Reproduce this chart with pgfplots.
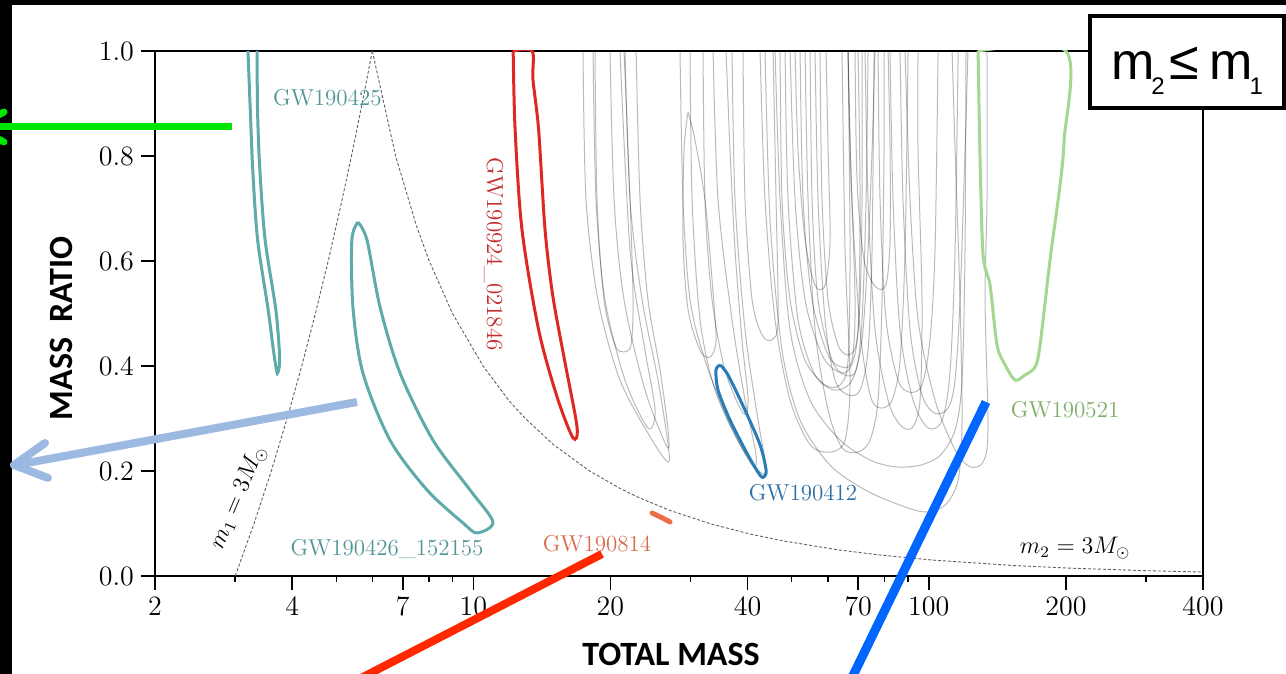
\documentclass[border=0pt]{standalone}
\usepackage{pgfplots}
\pgfplotsset{compat=1.18}
\usepackage{fontspec}
\newfontfamily\calibri{Carlito}
\newfontfamily\arial{Liberation Sans}
\definecolor{teal1}{RGB}{95,170,170}
\definecolor{tealtxt}{RGB}{80,150,150}
\definecolor{red1}{RGB}{222,40,35}
\definecolor{redtxt}{RGB}{195,45,45}
\definecolor{blue1}{RGB}{40,125,185}
\definecolor{bluetxt}{RGB}{45,110,165}
\definecolor{orange1}{RGB}{235,110,70}
\definecolor{orangetxt}{RGB}{215,110,75}
\definecolor{green1}{RGB}{165,215,145}
\definecolor{greentxt}{RGB}{125,175,105}
\definecolor{annGreen}{RGB}{0,230,0}
\definecolor{annSteel}{RGB}{155,185,225}
\definecolor{annRed}{RGB}{255,40,0}
\definecolor{annBlue}{RGB}{0,102,255}
\tikzset{
  graycont/.style={black, draw opacity=0.27, line width=0.5pt, smooth},
  ev/.style={line width=1.5pt, smooth},
  lab/.style={font=\fontsize{11.5}{13}\selectfont},
}
\begin{document}
\begin{tikzpicture}
\useasboundingbox (0,0) rectangle (643pt,337pt);
\clip (0,0) rectangle (643pt,337pt);
\fill[black] (0,0) rectangle (643pt,337pt);
\fill[white] (6pt,0) rectangle (643pt,334.5pt);
\begin{axis}[
  scale only axis, width=524pt, height=262.5pt,
  at={(77.5pt,49pt)}, anchor=south west,
  xmode=log, xmin=2, xmax=400, ymin=0, ymax=1,
  xtick={2,4,7,10,20,40,70,100,200,400},
  xticklabels={2,4,7,10,20,40,70,100,200,400},
  minor xtick={3,5,6,8,9,30,50,60,80,90,300},
  ytick={0,0.2,0.4,0.6,0.8,1},
  yticklabels={0.0,0.2,0.4,0.6,0.8,1.0},
  xtick pos=bottom, ytick pos=left,
  tick align=outside,
  major tick length=7pt, minor tick length=3pt,
  every tick/.style={black, line width=0.75pt},
  axis line style={line width=0.75pt},
  tick label style={font=\fontsize{14}{16}\selectfont},
  xlabel={TOTAL MASS}, ylabel={MASS\ \ RATIO},
  label style={font=\calibri\bfseries\fontsize{17}{19}\selectfont},
  xlabel style={at={(axis description cs:0.4924,-0.150)}, anchor=center},
  ylabel style={at={(axis description cs:-0.0897,0.472)}, anchor=center},
]
% m1 = 3 Msun and m2 = 3 Msun boundaries
\addplot[gray!75!black, line width=0.45pt, dash pattern=on 1.5pt off 1pt] coordinates {(3,0)(3.3,0.1)(3.6,0.2)(3.9,0.3)(4.2,0.4)(4.5,0.5)(4.8,0.6)(5.1,0.7)(5.4,0.8)(5.7,0.9)(6,1)};
\addplot[gray!75!black, line width=0.45pt, dash pattern=on 1.5pt off 1pt] coordinates {(6,1)(6.75,0.8)(7.5,0.667)(8,0.6)(9,0.5)(10.5,0.4)(12,0.333)(13,0.3)(15,0.25)(18,0.2)(21,0.1667)(23,0.15)(27,0.125)(33,0.1)(40.5,0.08)(48,0.0667)(63,0.05)(78,0.04)(103,0.03)(153,0.02)(203,0.015)(303,0.01)(400,0.00756)};
% gray contours of other events
\addplot[graycont] coordinates {(17.41,1)(17.68,0.716)(18.78,0.526)(20.99,0.373)(24.68,0.259)(26.76,0.217)(26.76,0.250)(25.44,0.373)(23.47,0.526)(22.08,0.716)(21.53,1)};
\addplot[graycont] coordinates {(18.32,1)(18.59,0.716)(19.46,0.526)(21.53,0.373)(24.18,0.282)(25.06,0.316)(23.82,0.430)(22.08,0.621)(20.99,1)};
\addplot[graycont] coordinates {(18.50,1)(18.69,0.716)(19.36,0.526)(20.47,0.44)(21.31,0.427)(22.19,0.44)(22.42,0.526)(22.08,0.716)(21.42,1)};
\addplot[graycont] coordinates {(19.96,1)(20.37,0.716)(21.42,0.526)(23.82,0.354)(26.63,0.246)(26.76,0.278)(25.70,0.392)(24.18,0.526)(23.23,0.716)(22.77,1)};
\addplot[graycont] coordinates {(28.43,1)(28.86,0.716)(29.91,0.526)(32.26,0.411)(36.24,0.297)(40.93,0.211)(41.76,0.230)(39.50,0.335)(36.99,0.488)(34.46,0.716)(33.60,1)};
\addplot[graycont] coordinates {(29.61,0.884)(29.01,0.811)(28.86,0.640)(29.61,0.507)(31.46,0.430)(33.09,0.417)(34.11,0.450)(33.43,0.564)(32.26,0.716)(30.67,0.830)(29.61,0.884)};
\addplot[graycont] coordinates {(31.94,1)(32.26,0.716)(33.43,0.526)(35.70,0.392)(39.10,0.310)(40.10,0.335)(38.90,0.450)(37.55,0.621)(36.61,0.811)(35.88,1)};
\addplot[graycont] coordinates {(39.10,1)(39.50,0.716)(40.93,0.526)(43.05,0.459)(45.28,0.450)(46.68,0.488)(46.20,0.716)(45.51,1)};
\addplot[graycont] coordinates {(42.61,1)(43.70,0.716)(45.97,0.488)(49.59,0.335)(54.87,0.250)(60.71,0.236)(65.49,0.259)(67.16,0.373)(65.49,0.621)(64.50,1)};
\addplot[graycont] coordinates {(50.86,1)(51.63,0.811)(53.50,0.640)(56.27,0.554)(59.19,0.554)(60.71,0.640)(60.10,0.811)(59.49,1)};
\addplot[graycont] coordinates {(49.59,1)(50.86,0.716)(53.50,0.526)(58.29,0.421)(63.21,0.389)(67.16,0.396)(69.94,0.469)(70.65,0.716)(69.94,1)};
\addplot[graycont] coordinates {(52.16,1)(52.96,0.716)(55.43,0.526)(60.10,0.421)(64.50,0.398)(67.85,0.411)(68.88,0.526)(67.16,0.811)(66.49,1)};
\addplot[graycont] coordinates {(54.87,1)(55.43,0.716)(57.13,0.526)(61.33,0.411)(65.49,0.383)(69.22,0.392)(71.37,0.488)(72.82,0.716)(73.56,1)};
\addplot[graycont] coordinates {(48.35,1)(49.09,0.716)(51.63,0.488)(56.27,0.383)(62.26,0.354)(67.85,0.373)(71.37,0.450)(73.56,0.621)(75.07,0.811)(76.21,1)};
\addplot[graycont] coordinates {(68.88,1)(69.58,0.754)(72.09,0.602)(76.60,0.550)(80.57,0.556)(82.21,0.640)(82.21,0.811)(81.39,1)};
\addplot[graycont] coordinates {(77.38,1)(78.16,0.716)(80.57,0.488)(85.61,0.373)(90.96,0.350)(96.63,0.364)(100.6,0.450)(103.2,0.621)(104.8,1)};
\addplot[graycont] coordinates {(82.21,1)(83.47,0.716)(86.47,0.469)(92.35,0.335)(99.6,0.282)(107.0,0.297)(111.4,0.392)(114.2,0.621)(116.0,1)};
\addplot[graycont] coordinates {(88.69,1)(90.96,0.716)(94.71,0.488)(103.2,0.335)(114.2,0.240)(123.2,0.208)(131.6,0.217)(134.9,0.278)(132.9,0.526)(134.2,0.716)(134.2,1)};
\addplot[graycont] coordinates {(43.70,1)(44.82,0.678)(47.62,0.430)(52.16,0.297)(60.71,0.211)(72.45,0.164)(86.47,0.135)(98.12,0.122)(108.6,0.135)(116.0,0.183)(118.3,0.297)(117.1,0.526)(114.2,0.811)(112.5,1)};
\addplot[graycont] coordinates {(45.97,1)(47.15,0.716)(49.59,0.469)(54.87,0.335)(63.85,0.259)(74.31,0.221)(84.32,0.208)(95.67,0.211)(105.9,0.230)(114.2,0.278)(118.3,0.373)(120.1,0.621)(120.7,1)};
\addplot[graycont] coordinates {(72.45,1)(73.56,0.716)(76.21,0.469)(81.39,0.335)(86.47,0.288)(91.89,0.282)(95.67,0.335)(96.63,0.526)(94.71,0.811)(94.71,1)};
\addplot[graycont] coordinates {(56.27,1)(57.13,0.716)(59.19,0.488)(62.26,0.373)(66.49,0.345)(70.65,0.354)(73.56,0.430)(75.07,0.621)(75.83,1)};
\addplot[graycont] coordinates {(66.49,1)(67.85,0.716)(70.65,0.469)(74.31,0.345)(78.16,0.320)(83.05,0.335)(86.47,0.411)(88.69,0.621)(90.04,1)};
\addplot[graycont] coordinates {(53.50,1)(54.31,0.716)(56.27,0.469)(60.10,0.316)(64.50,0.244)(69.94,0.236)(74.31,0.259)(77.38,0.335)(78.96,0.526)(79.76,0.811)(79.76,1)};
\addplot[graycont] coordinates {(86.47,1)(87.79,0.716)(90.96,0.469)(96.63,0.345)(103.2,0.310)(110.3,0.320)(114.2,0.373)(117.1,0.526)(120.1,0.811)(121.9,1)};
\addplot[graycont] coordinates {(57.71,1)(58.29,0.716)(60.10,0.526)(63.21,0.440)(66.49,0.421)(69.22,0.440)(70.65,0.526)(71.37,0.716)(71.37,1)};
\addplot[graycont] coordinates {(47.15,1)(47.62,0.716)(49.59,0.526)(53.50,0.411)(59.19,0.364)(63.85,0.364)(66.49,0.411)(67.16,0.621)(66.49,1)};
\addplot[graycont] coordinates {(29.91,1)(30.22,0.716)(31.46,0.488)(33.94,0.354)(38.51,0.250)(42.61,0.198)(43.92,0.206)(42.18,0.297)(39.50,0.469)(37.55,0.716)(36.99,1)};
% highlighted events
\addplot[ev, teal1] coordinates {(3.20,1)(3.24,0.88)(3.28,0.77)(3.36,0.64)(3.54,0.51)(3.64,0.43)(3.70,0.39)(3.72,0.387)(3.75,0.40)(3.75,0.43)(3.68,0.51)(3.49,0.64)(3.40,0.77)(3.36,0.88)(3.35,1)};
\addplot[ev, teal1] coordinates {(5.58,0.674)(5.41,0.640)(5.44,0.512)(5.72,0.387)(6.56,0.259)(7.91,0.164)(9.49,0.101)(10.19,0.082)(11.04,0.103)(9.83,0.164)(8.15,0.259)(6.90,0.387)(6.24,0.512)(5.84,0.640)(5.58,0.674)};
\addplot[ev, red1] coordinates {(12.23,1)(12.35,0.85)(12.79,0.659)(13.91,0.469)(15.27,0.341)(16.55,0.263)(16.89,0.284)(15.90,0.406)(14.96,0.531)(14.37,0.659)(13.91,0.85)(13.52,0.945)(13.46,1)(12.23,1)};
\addplot[ev, blue1] coordinates {(34.8,0.402)(36.24,0.383)(39.49,0.316)(42.6,0.25)(43.92,0.202)(43.47,0.189)(42.6,0.192)(40.1,0.23)(36.61,0.297)(34.46,0.354)(34.1,0.392)(34.8,0.402)};
\addplot[orange1, line width=2.5pt, line cap=round] coordinates {(24.68,0.120)(25.8,0.112)(27.03,0.103)};
\addplot[ev, green1] coordinates {(128.3,1)(129.6,0.792)(131.6,0.611)(136.3,0.554)(141.2,0.44)(147.1,0.402)(154.7,0.373)(162.7,0.383)(171.1,0.398)(175.5,0.44)(184.6,0.602)(194.2,0.745)(198.2,0.83)(200,1)(128.3,1)};
% labels
\node[lab, tealtxt] at (axis cs:4.78,0.912) {GW190425};
\node[lab, tealtxt] at (axis cs:6.462,0.051) {GW190426\_152155};
\node[lab, redtxt, rotate=-90] at (axis cs:11.08,0.613) {GW190924\_021846};
\node[lab, bluetxt] at (axis cs:52.95,0.158) {GW190412};
\node[lab, orangetxt] at (axis cs:18.69,0.061) {GW190814};
\node[lab, greentxt] at (axis cs:199.2,0.316) {GW190521};
\node[lab, rotate=67, inner sep=1pt] at (axis cs:3.05,0.15) {$m_1 = 3M_\odot$};
\node[lab] at (axis cs:209.5,0.053) {$m_2 = 3M_\odot$};
\end{axis}
% overlaid annotation strokes
\draw[annGreen, line width=3.5pt] (116pt,273.5pt) -- (-12pt,273.5pt);
\draw[annGreen, line width=3.5pt, line cap=round, line join=round] (2pt,281pt) -- (-12pt,273.5pt) -- (2pt,266pt);
\draw[annSteel, line width=4pt] (178.5pt,136pt) -- (8pt,104.5pt);
\draw[annSteel, line width=4pt, line cap=round, line join=round] (22.5pt,115.5pt) -- (7pt,104.5pt) -- (24pt,98pt);
\draw[annRed, line width=4pt] (301pt,60pt) -- (165pt,-10pt);
\draw[annBlue, line width=4.5pt] (493pt,136pt) -- (423pt,-8pt);
% box
\draw[line width=1.75pt, fill=white] (545pt,283pt) rectangle (642pt,329pt);
\node[anchor=base, inner sep=0pt, font=\arial\fontsize{26}{28}\selectfont] at (593.5pt,297pt) {m\kern-1.5pt\raisebox{-7.5pt}{\fontsize{12}{12}\selectfont 2}\kern2.5pt{\fontsize{27}{27}\selectfont ≤}\kern5pt m\kern-1.5pt\raisebox{-7.5pt}{\fontsize{12}{12}\selectfont 1}};
\end{tikzpicture}
\end{document}
